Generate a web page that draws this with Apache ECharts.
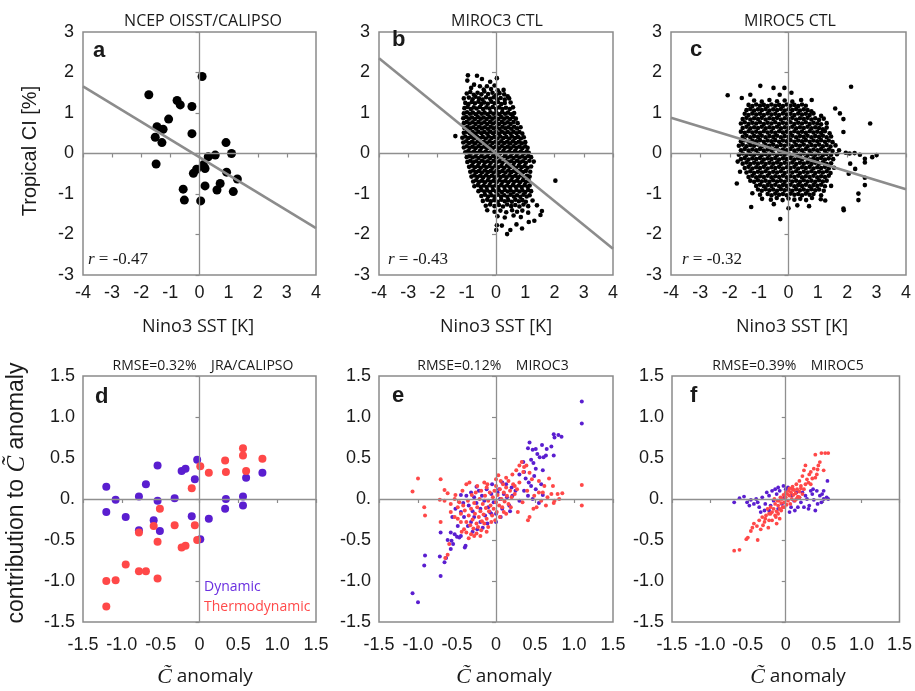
<!DOCTYPE html>
<html>
<head>
<meta charset="utf-8">
<script src="https://cdn.jsdelivr.net/npm/echarts@6/dist/echarts.min.js"></script>
<style>
html,body{margin:0;padding:0;background:#fff;}
#chart{width:915px;height:691px;}
</style>
</head>
<body>
<div id="chart"></div>
<script>
// ---------- tick labels ----------
const sstTicks = [-4, -3, -2, -1, 0, 1, 2, 3, 4];
const cloudTicks = [-3, -2, -1, 0, 1, 2, 3];
const anomXLabels = ['-1.5', '-1.0', '-0.5', '0', '0.5', '1.0', '1.5'];
const anomYLabels = ['-1.5', '-1.0', '-0.5', '0.', '0.5', '1.0', '1.5'];

// ---------- panel titles / annotations ----------
const topTitles = ['NCEP OISST/CALIPSO', 'MIROC3 CTL', 'MIROC5 CTL'];
const bottomTitles = ['RMSE=0.32%    JRA/CALIPSO', 'RMSE=0.12%    MIROC3', 'RMSE=0.39%    MIROC5'];
const corrLabels = ['-0.47', '-0.43', '-0.32'];

// ---------- regression lines (Nino3 SST vs tropical CI) ----------
const fitA = [[-4, 1.66], [4, -1.84]];
const fitB = [[-4, 2.35], [4, -2.35]];
const fitC = [[-4, 0.88], [4, -0.88]];

// ---------- a: observed annual anomalies ----------
const obsPts = [[-1.74,1.45],[0.09,1.90],[-0.77,1.31],[-0.66,1.20],[-0.26,1.16],[-1.06,0.85],[-1.46,0.66],[-1.25,0.60],[-1.52,0.40],[-1.29,0.27],[-0.26,0.49],[-1.49,-0.26],[0.91,0.27],[1.10,0.00],[0.54,-0.04],[0.30,-0.08],[0.13,-0.28],[0.19,-0.37],[-0.10,-0.39],[-0.21,-0.49],[0.93,-0.46],[1.30,-0.63],[0.71,-0.74],[0.60,-0.90],[0.19,-0.80],[1.16,-0.94],[-0.56,-0.88],[-0.52,-1.15],[0.04,-1.17]];

// ---------- b: MIROC3 control run ----------
const miroc3Pts = [
[-0.96,1.93],[-0.65,1.92],[0.03,1.86],[-0.98,1.80],[-0.48,1.84],[-0.2,1.77],
[-0.85,1.62],[-0.75,1.70],[-0.55,1.66],[-0.31,1.66],[-0.17,1.59],[0.06,1.56],[0.26,1.57],[-0.42,1.58],[-0.05,1.68],
[-1.0,1.48],[-0.88,1.52],[-0.76,1.45],[-0.63,1.5],[-0.5,1.46],[-0.4,1.53],[-0.27,1.47],[-0.12,1.5],[0.0,1.44],[0.12,1.49],[0.28,1.46],[0.4,1.41],
[-1.1,1.36],[-0.93,1.38],[-0.8,1.34],[-0.7,1.4],[-0.58,1.36],[-0.46,1.33],[-0.34,1.39],[-0.2,1.35],[-0.08,1.39],[0.04,1.34],[0.16,1.37],[0.3,1.33],[0.45,1.36],
[-1.05,1.25],[-0.94,1.22],[-0.83,1.27],[-0.72,1.24],[-0.6,1.28],[-0.5,1.22],[-0.4,1.26],[-0.28,1.23],[-0.16,1.28],[-0.05,1.24],[0.07,1.27],[0.18,1.22],[0.3,1.25],[0.5,1.26],
[-1.08,1.12],[-0.97,1.15],[-0.86,1.1],[-0.76,1.14],[-0.66,1.11],[-0.55,1.15],[-0.44,1.1],[-0.33,1.14],[-0.22,1.11],[-0.11,1.15],[0.0,1.1],[0.11,1.14],[0.22,1.1],[0.34,1.13],[0.47,1.1],[0.58,1.14],
[-1.1,0.99],[-0.99,1.02],[-0.89,0.98],[-0.79,1.01],[-0.69,0.97],[-0.59,1.02],[-0.49,0.98],[-0.39,1.01],[-0.29,0.97],[-0.19,1.02],[-0.09,0.98],[0.01,1.01],[0.11,0.97],[0.21,1.02],[0.31,0.98],[0.41,1.01],[0.52,0.97],[0.62,1.0],
[-1.12,0.87],[-1.02,0.9],[-0.92,0.86],[-0.82,0.89],[-0.72,0.85],[-0.62,0.9],[-0.52,0.86],[-0.42,0.89],[-0.32,0.85],[-0.22,0.9],[-0.12,0.86],[-0.02,0.89],[0.08,0.85],[0.18,0.9],[0.28,0.86],[0.38,0.89],[0.48,0.85],[0.58,0.9],[0.68,0.86],
[-1.1,0.75],[-1.0,0.78],[-0.9,0.74],[-0.8,0.77],[-0.7,0.73],[-0.6,0.78],[-0.5,0.74],[-0.4,0.77],[-0.3,0.73],[-0.2,0.78],[-0.1,0.74],[0.0,0.77],[0.1,0.73],[0.2,0.78],[0.3,0.74],[0.4,0.77],[0.5,0.73],[0.6,0.78],[0.74,0.75],
[-1.08,0.63],[-0.98,0.66],[-0.88,0.62],[-0.78,0.65],[-0.68,0.61],[-0.58,0.66],[-0.48,0.62],[-0.38,0.65],[-0.28,0.61],[-0.18,0.66],[-0.08,0.62],[0.02,0.65],[0.12,0.61],[0.22,0.66],[0.32,0.62],[0.42,0.65],[0.52,0.61],[0.62,0.66],[0.72,0.62],[0.84,0.65],
[-1.1,0.51],[-1.0,0.54],[-0.9,0.5],[-0.8,0.53],[-0.7,0.49],[-0.6,0.54],[-0.5,0.5],[-0.4,0.53],[-0.3,0.49],[-0.2,0.54],[-0.1,0.5],[0.0,0.53],[0.1,0.49],[0.2,0.54],[0.3,0.5],[0.4,0.53],[0.5,0.49],[0.6,0.54],[0.7,0.5],[0.8,0.53],[0.9,0.49],
[-1.39,0.43],[-1.15,0.39],[-1.05,0.42],[-0.95,0.38],[-0.85,0.41],[-0.75,0.37],[-0.65,0.42],[-0.55,0.38],[-0.45,0.41],[-0.35,0.37],[-0.25,0.42],[-0.15,0.38],[-0.05,0.41],[0.05,0.37],[0.15,0.42],[0.25,0.38],[0.35,0.41],[0.45,0.37],[0.55,0.42],[0.65,0.38],[0.75,0.41],[0.85,0.37],[0.95,0.4],
[-1.12,0.27],[-1.02,0.3],[-0.92,0.26],[-0.82,0.29],[-0.72,0.25],[-0.62,0.3],[-0.52,0.26],[-0.42,0.29],[-0.32,0.25],[-0.22,0.3],[-0.12,0.26],[-0.02,0.29],[0.08,0.25],[0.18,0.3],[0.28,0.26],[0.38,0.29],[0.48,0.25],[0.58,0.3],[0.68,0.26],[0.78,0.29],[0.88,0.25],[1.0,0.28],
[-1.1,0.15],[-1.0,0.18],[-0.9,0.14],[-0.8,0.17],[-0.7,0.13],[-0.6,0.18],[-0.5,0.14],[-0.4,0.17],[-0.3,0.13],[-0.2,0.18],[-0.1,0.14],[0.0,0.17],[0.1,0.13],[0.2,0.18],[0.3,0.14],[0.4,0.17],[0.5,0.13],[0.6,0.18],[0.7,0.14],[0.8,0.17],[0.9,0.13],[1.0,0.18],[1.08,0.14],
[-1.05,0.03],[-0.95,0.06],[-0.85,0.02],[-0.75,0.05],[-0.65,0.01],[-0.55,0.06],[-0.45,0.02],[-0.35,0.05],[-0.25,0.01],[-0.15,0.06],[-0.05,0.02],[0.05,0.05],[0.15,0.01],[0.25,0.06],[0.35,0.02],[0.45,0.05],[0.55,0.01],[0.65,0.06],[0.75,0.02],[0.85,0.05],[0.95,0.01],[1.05,0.05],[1.12,0.02],
[-1.0,-0.09],[-0.9,-0.06],[-0.8,-0.1],[-0.7,-0.07],[-0.6,-0.11],[-0.5,-0.06],[-0.4,-0.1],[-0.3,-0.07],[-0.2,-0.11],[-0.1,-0.06],[0.0,-0.1],[0.1,-0.07],[0.2,-0.11],[0.3,-0.06],[0.4,-0.1],[0.5,-0.07],[0.6,-0.11],[0.7,-0.06],[0.8,-0.1],[0.9,-0.07],[1.0,-0.11],[1.1,-0.06],[1.2,-0.09],
[-0.98,-0.21],[-0.88,-0.18],[-0.78,-0.22],[-0.68,-0.19],[-0.58,-0.23],[-0.48,-0.18],[-0.38,-0.22],[-0.28,-0.19],[-0.18,-0.23],[-0.08,-0.18],[0.02,-0.22],[0.12,-0.19],[0.22,-0.23],[0.32,-0.18],[0.42,-0.22],[0.52,-0.19],[0.62,-0.23],[0.72,-0.18],[0.82,-0.22],[0.92,-0.19],[1.02,-0.23],[1.14,-0.18],[1.29,-0.2],
[-0.92,-0.33],[-0.82,-0.3],[-0.72,-0.34],[-0.62,-0.31],[-0.52,-0.35],[-0.42,-0.3],[-0.32,-0.34],[-0.22,-0.31],[-0.12,-0.35],[-0.02,-0.3],[0.08,-0.34],[0.18,-0.31],[0.28,-0.35],[0.38,-0.3],[0.48,-0.34],[0.58,-0.31],[0.68,-0.35],[0.78,-0.3],[0.88,-0.34],[0.98,-0.31],[1.08,-0.35],[1.2,-0.32],
[-0.88,-0.45],[-0.78,-0.42],[-0.68,-0.46],[-0.58,-0.43],[-0.48,-0.47],[-0.38,-0.42],[-0.28,-0.46],[-0.18,-0.43],[-0.08,-0.47],[0.02,-0.42],[0.12,-0.46],[0.22,-0.43],[0.32,-0.47],[0.42,-0.42],[0.52,-0.46],[0.62,-0.43],[0.72,-0.47],[0.82,-0.42],[0.92,-0.46],[1.02,-0.43],[1.17,-0.45],
[-0.84,-0.57],[-0.74,-0.54],[-0.64,-0.58],[-0.54,-0.55],[-0.44,-0.59],[-0.34,-0.54],[-0.24,-0.58],[-0.14,-0.55],[-0.04,-0.59],[0.06,-0.54],[0.16,-0.58],[0.26,-0.55],[0.36,-0.59],[0.46,-0.54],[0.56,-0.58],[0.66,-0.55],[0.76,-0.59],[0.86,-0.54],[0.96,-0.58],[1.06,-0.55],[1.15,-0.57],
[-0.78,-0.69],[-0.68,-0.66],[-0.58,-0.7],[-0.48,-0.67],[-0.38,-0.71],[-0.28,-0.66],[-0.18,-0.7],[-0.08,-0.67],[0.02,-0.71],[0.12,-0.66],[0.22,-0.7],[0.32,-0.67],[0.42,-0.71],[0.52,-0.66],[0.62,-0.7],[0.72,-0.67],[0.82,-0.71],[0.92,-0.66],[1.02,-0.7],[1.12,-0.67],
[-0.74,-0.81],[-0.62,-0.78],[-0.52,-0.82],[-0.42,-0.79],[-0.32,-0.83],[-0.22,-0.78],[-0.12,-0.82],[-0.02,-0.79],[0.08,-0.83],[0.18,-0.78],[0.28,-0.82],[0.38,-0.79],[0.48,-0.83],[0.58,-0.78],[0.68,-0.82],[0.78,-0.79],[0.88,-0.83],[0.98,-0.78],[1.08,-0.82],[1.15,-0.79],
[-0.6,-0.93],[-0.5,-0.9],[-0.4,-0.94],[-0.3,-0.91],[-0.2,-0.95],[-0.1,-0.9],[0.0,-0.94],[0.1,-0.91],[0.2,-0.95],[0.3,-0.9],[0.4,-0.94],[0.5,-0.91],[0.6,-0.95],[0.7,-0.9],[0.8,-0.94],[0.9,-0.91],[1.0,-0.95],[1.1,-0.9],[1.2,-0.93],
[-0.5,-1.05],[-0.38,-1.02],[-0.27,-1.06],[-0.16,-1.03],[-0.05,-1.07],[0.06,-1.02],[0.17,-1.06],[0.28,-1.03],[0.39,-1.07],[0.5,-1.02],[0.61,-1.06],[0.72,-1.03],[0.83,-1.07],[0.94,-1.02],[1.05,-1.06],[1.15,-1.03],
[-0.45,-1.17],[-0.3,-1.14],[-0.18,-1.18],[-0.06,-1.15],[0.06,-1.19],[0.18,-1.14],[0.3,-1.18],[0.42,-1.15],[0.54,-1.19],[0.66,-1.14],[0.78,-1.18],[0.9,-1.15],[1.02,-1.19],[1.25,-1.16],
[-0.35,-1.29],[-0.2,-1.26],[-0.05,-1.3],[0.1,-1.27],[0.24,-1.31],[0.38,-1.26],[0.52,-1.3],[0.66,-1.27],[0.8,-1.31],[0.94,-1.26],[1.1,-1.3],[1.4,-1.28],
[-0.3,-1.4],[-0.05,-1.44],[0.15,-1.41],[0.35,-1.45],[0.55,-1.4],[0.72,-1.44],[0.9,-1.41],[1.1,-1.46],[1.57,-1.42],
[0.05,-1.55],[0.3,-1.58],[0.6,-1.53],[0.85,-1.57],[1.52,-1.52],[1.31,-1.66],[1.12,-1.69],
[0.03,-1.77],[0.2,-1.78],[0.49,-1.89],[0.38,-1.99],[0.89,-1.85],[0.01,-1.89],[0.7,-1.75],
[2.03,-0.67]
];

// ---------- c: MIROC5 control run ----------
const miroc5Pts = [
[-1.17,1.31],[-0.91,1.28],[-0.65,1.32],[-0.39,1.29],[-0.13,1.31],[0.13,1.28],[0.43,1.32],[0.79,1.32],[-1.59,1.37],[-0.96,1.67],[-0.51,1.62],[-0.14,1.62],[-2.07,1.44],[2.13,1.65],[-1.3,1.45],[-0.3,1.45],[0.1,1.5],
[-1.36,1.2],[-1.23,1.17],[-1.1,1.21],[-0.97,1.18],[-0.84,1.2],[-0.71,1.17],[-0.58,1.21],[-0.45,1.18],[-0.32,1.2],[-0.19,1.17],[-0.06,1.21],[0.07,1.18],[0.2,1.2],[0.33,1.17],[0.46,1.21],[0.59,1.18],[1.59,1.11],
[-1.43,1.07],[-1.3,1.1],[-1.17,1.06],[-1.04,1.09],[-0.91,1.07],[-0.78,1.1],[-0.65,1.06],[-0.52,1.09],[-0.39,1.07],[-0.26,1.1],[-0.13,1.06],[0.0,1.09],[0.13,1.07],[0.26,1.1],[0.39,1.06],[0.52,1.09],[0.65,1.07],[0.78,1.04],[1.75,0.99],
[-1.49,0.98],[-1.36,0.95],[-1.23,0.99],[-1.1,0.96],[-0.97,0.98],[-0.84,0.95],[-0.71,0.99],[-0.58,0.96],[-0.45,0.98],[-0.32,0.95],[-0.19,0.99],[-0.06,0.96],[0.07,0.98],[0.2,0.95],[0.33,0.99],[0.46,0.96],[0.59,0.98],[0.72,0.95],[0.85,0.99],[1.11,0.93],[1.87,0.85],
[-1.56,0.85],[-1.43,0.88],[-1.3,0.84],[-1.17,0.87],[-1.04,0.85],[-0.91,0.88],[-0.78,0.84],[-0.65,0.87],[-0.52,0.85],[-0.39,0.88],[-0.26,0.84],[-0.13,0.87],[0.0,0.85],[0.13,0.88],[0.26,0.84],[0.39,0.87],[0.52,0.85],[0.65,0.88],[0.78,0.84],[0.91,0.87],[1.04,0.83],[1.2,0.86],
[-1.62,0.74],[-1.49,0.77],[-1.36,0.73],[-1.23,0.76],[-1.1,0.74],[-0.97,0.77],[-0.84,0.73],[-0.71,0.76],[-0.58,0.74],[-0.45,0.77],[-0.32,0.73],[-0.19,0.76],[-0.06,0.74],[0.07,0.77],[0.2,0.73],[0.33,0.76],[0.46,0.74],[0.59,0.77],[0.72,0.73],[0.85,0.76],[0.98,0.74],[1.11,0.72],[1.3,0.75],[2.78,0.74],
[-1.56,0.63],[-1.43,0.66],[-1.3,0.62],[-1.17,0.65],[-1.04,0.63],[-0.91,0.66],[-0.78,0.62],[-0.65,0.65],[-0.52,0.63],[-0.39,0.66],[-0.26,0.62],[-0.13,0.65],[0.0,0.63],[0.13,0.66],[0.26,0.62],[0.39,0.65],[0.52,0.63],[0.65,0.66],[0.78,0.62],[0.91,0.65],[1.04,0.63],[1.17,0.6],[1.3,0.64],
[-1.62,0.54],[-1.49,0.51],[-1.36,0.55],[-1.23,0.52],[-1.1,0.54],[-0.97,0.51],[-0.84,0.55],[-0.71,0.52],[-0.58,0.54],[-0.45,0.51],[-0.32,0.55],[-0.19,0.52],[-0.06,0.54],[0.07,0.51],[0.2,0.55],[0.33,0.52],[0.46,0.54],[0.59,0.51],[0.72,0.55],[0.85,0.52],[0.98,0.54],[1.11,0.51],[1.24,0.55],[1.4,0.5],[1.87,0.53],
[-1.56,0.41],[-1.43,0.44],[-1.3,0.4],[-1.17,0.43],[-1.04,0.41],[-0.91,0.44],[-0.78,0.4],[-0.65,0.43],[-0.52,0.41],[-0.39,0.44],[-0.26,0.4],[-0.13,0.43],[0.0,0.41],[0.13,0.44],[0.26,0.4],[0.39,0.43],[0.52,0.41],[0.65,0.44],[0.78,0.4],[0.91,0.43],[1.04,0.41],[1.17,0.44],[1.3,0.4],[1.45,0.42],
[-1.62,0.3],[-1.49,0.33],[-1.36,0.29],[-1.23,0.32],[-1.1,0.3],[-0.97,0.33],[-0.84,0.29],[-0.71,0.32],[-0.58,0.3],[-0.45,0.33],[-0.32,0.29],[-0.19,0.32],[-0.06,0.3],[0.07,0.33],[0.2,0.29],[0.33,0.32],[0.46,0.3],[0.59,0.33],[0.72,0.29],[0.85,0.32],[0.98,0.3],[1.11,0.33],[1.24,0.29],[1.37,0.32],[1.5,0.28],
[-1.69,0.19],[-1.56,0.22],[-1.43,0.18],[-1.3,0.21],[-1.17,0.19],[-1.04,0.22],[-0.91,0.18],[-0.78,0.21],[-0.65,0.19],[-0.52,0.22],[-0.39,0.18],[-0.26,0.21],[-0.13,0.19],[0.0,0.22],[0.13,0.18],[0.26,0.21],[0.39,0.19],[0.52,0.22],[0.65,0.18],[0.78,0.21],[0.91,0.19],[1.04,0.22],[1.17,0.18],[1.3,0.21],[1.43,0.17],[1.6,0.2],
[-1.62,0.08],[-1.49,0.11],[-1.36,0.07],[-1.23,0.1],[-1.1,0.08],[-0.97,0.11],[-0.84,0.07],[-0.71,0.1],[-0.58,0.08],[-0.45,0.11],[-0.32,0.07],[-0.19,0.1],[-0.06,0.08],[0.07,0.11],[0.2,0.07],[0.33,0.1],[0.46,0.08],[0.59,0.11],[0.72,0.07],[0.85,0.1],[0.98,0.08],[1.11,0.11],[1.24,0.07],[1.37,0.1],[1.5,0.06],[1.72,0.08],[1.95,0.02],
[-1.69,-0.03],[-1.56,0.0],[-1.43,-0.04],[-1.3,-0.01],[-1.17,-0.03],[-1.04,0.0],[-0.91,-0.04],[-0.78,-0.01],[-0.65,-0.03],[-0.52,0.0],[-0.39,-0.04],[-0.26,-0.01],[-0.13,-0.03],[0.0,0.0],[0.13,-0.04],[0.26,-0.01],[0.39,-0.03],[0.52,0.0],[0.65,-0.04],[0.78,-0.01],[0.91,-0.03],[1.04,0.0],[1.17,-0.04],[1.3,-0.01],[1.45,-0.03],[1.65,-0.02],[2.08,0.0],[2.25,0.01],[2.43,-0.03],[3.0,-0.04],
[-1.62,-0.14],[-1.49,-0.11],[-1.36,-0.15],[-1.23,-0.12],[-1.1,-0.14],[-0.97,-0.11],[-0.84,-0.15],[-0.71,-0.12],[-0.58,-0.14],[-0.45,-0.11],[-0.32,-0.15],[-0.19,-0.12],[-0.06,-0.14],[0.07,-0.11],[0.2,-0.15],[0.33,-0.12],[0.46,-0.14],[0.59,-0.11],[0.72,-0.15],[0.85,-0.12],[0.98,-0.14],[1.11,-0.11],[1.24,-0.15],[1.37,-0.12],[1.52,-0.14],[2.6,-0.13],[2.85,-0.09],
[-1.73,-0.2],[-1.56,-0.25],[-1.43,-0.22],[-1.3,-0.26],[-1.17,-0.23],[-1.04,-0.25],[-0.91,-0.22],[-0.78,-0.26],[-0.65,-0.23],[-0.52,-0.25],[-0.39,-0.22],[-0.26,-0.26],[-0.13,-0.23],[0.0,-0.25],[0.13,-0.22],[0.26,-0.26],[0.39,-0.23],[0.52,-0.25],[0.65,-0.22],[0.78,-0.26],[0.91,-0.23],[1.04,-0.25],[1.17,-0.22],[1.3,-0.26],[1.45,-0.24],[2.1,-0.25],[2.6,-0.22],
[-1.49,-0.36],[-1.36,-0.33],[-1.23,-0.37],[-1.1,-0.34],[-0.97,-0.36],[-0.84,-0.33],[-0.71,-0.37],[-0.58,-0.34],[-0.45,-0.36],[-0.32,-0.33],[-0.19,-0.37],[-0.06,-0.34],[0.07,-0.36],[0.2,-0.33],[0.33,-0.37],[0.46,-0.34],[0.59,-0.36],[0.72,-0.33],[0.85,-0.37],[0.98,-0.34],[1.11,-0.36],[1.24,-0.33],[1.37,-0.37],[1.55,-0.35],[2.27,-0.38],
[-1.65,-0.45],[-1.43,-0.47],[-1.3,-0.44],[-1.17,-0.48],[-1.04,-0.45],[-0.91,-0.47],[-0.78,-0.44],[-0.65,-0.48],[-0.52,-0.45],[-0.39,-0.47],[-0.26,-0.44],[-0.13,-0.48],[0.0,-0.45],[0.13,-0.47],[0.26,-0.44],[0.39,-0.48],[0.52,-0.45],[0.65,-0.47],[0.78,-0.44],[0.91,-0.48],[1.04,-0.45],[1.17,-0.47],[1.3,-0.44],[1.43,-0.48],[2.05,-0.5],
[-1.36,-0.58],[-1.23,-0.55],[-1.1,-0.59],[-0.97,-0.56],[-0.84,-0.58],[-0.71,-0.55],[-0.58,-0.59],[-0.45,-0.56],[-0.32,-0.58],[-0.19,-0.55],[-0.06,-0.59],[0.07,-0.56],[0.2,-0.58],[0.33,-0.55],[0.46,-0.59],[0.59,-0.56],[0.72,-0.58],[0.85,-0.55],[0.98,-0.59],[1.11,-0.56],[1.24,-0.58],[1.37,-0.55],[2.6,-0.6],
[-1.76,-0.74],[-1.3,-0.67],[-1.17,-0.7],[-1.04,-0.66],[-0.91,-0.69],[-0.78,-0.67],[-0.65,-0.7],[-0.52,-0.66],[-0.39,-0.69],[-0.26,-0.67],[-0.13,-0.7],[0.0,-0.66],[0.13,-0.69],[0.26,-0.67],[0.39,-0.7],[0.52,-0.66],[0.65,-0.69],[0.78,-0.67],[0.91,-0.7],[1.04,-0.66],[1.17,-0.69],[1.3,-0.67],[2.6,-0.78],
[-1.1,-0.8],[-0.97,-0.77],[-0.84,-0.81],[-0.71,-0.78],[-0.58,-0.8],[-0.45,-0.77],[-0.32,-0.81],[-0.19,-0.78],[-0.06,-0.8],[0.07,-0.77],[0.2,-0.81],[0.33,-0.78],[0.46,-0.8],[0.59,-0.77],[0.72,-0.81],[0.85,-0.78],[0.98,-0.8],[1.11,-0.77],[1.24,-0.81],[1.45,-0.8],
[-1.04,-0.89],[-0.91,-0.92],[-0.78,-0.88],[-0.65,-0.91],[-0.52,-0.89],[-0.39,-0.92],[-0.26,-0.88],[-0.13,-0.91],[0.0,-0.89],[0.13,-0.92],[0.26,-0.88],[0.39,-0.91],[0.52,-0.89],[0.65,-0.92],[0.78,-0.88],[0.91,-0.91],[1.04,-0.89],[1.2,-0.92],
[-1.23,-0.98],[-0.97,-1.02],[-0.71,-1.0],[-0.58,-1.03],[-0.45,-0.99],[-0.32,-1.02],[-0.19,-1.0],[-0.06,-1.03],[0.07,-0.99],[0.2,-1.02],[0.33,-1.0],[0.46,-1.03],[0.59,-0.99],[0.72,-1.02],[0.85,-1.0],[1.11,-1.03],[2.38,-0.99],
[-0.9,-1.12],[-0.6,-1.14],[-0.4,-1.1],[-0.2,-1.15],[0.0,-1.11],[0.2,-1.14],[0.4,-1.12],[0.6,-1.15],[0.8,-1.1],[1.1,-1.13],[1.25,-1.16],[2.38,-1.15],
[-1.27,-1.32],[-0.5,-1.25],[0.0,-1.35],[0.3,-1.28],[0.7,-1.3],[1.87,-1.36],[1.88,-1.4],[-0.28,-1.62]
];

// ---------- d: reanalysis decomposition ----------
const obsDynamic = [[-1.20,0.15],[-1.20,-0.16],[-1.08,-0.01],[-0.95,-0.22],[-0.78,0.03],[-0.78,-0.38],[-0.69,0.18],[-0.54,0.41],[-0.54,-0.02],[-0.59,-0.26],[-0.51,-0.39],[-0.32,0.01],[-0.23,0.34],[-0.18,0.37],[-0.06,0.24],[-0.03,0.48],[-0.10,-0.21],[0.01,-0.49],[0.12,-0.24],[0.33,-0.12],[0.34,0.00],[0.56,0.03],[0.56,-0.08],[0.60,0.26],[0.81,0.32]];
const obsThermo = [[-1.20,-1.31],[-1.20,-1.00],[-1.08,-0.99],[-0.95,-0.80],[-0.78,-0.88],[-0.69,-0.88],[-0.54,-0.97],[-0.78,-0.41],[-0.59,-0.33],[-0.54,-0.52],[-0.51,-0.12],[-0.32,-0.32],[-0.23,-0.59],[-0.18,-0.57],[-0.10,0.13],[-0.06,-0.32],[-0.03,-0.50],[0.01,0.40],[0.12,0.32],[0.33,0.47],[0.34,0.33],[0.56,0.62],[0.56,0.53],[0.60,0.34],[0.81,0.49]];

// ---------- e: MIROC3 decomposition ----------
const m3Dynamic = [
[1.10,1.19],[1.10,0.92],[-1.07,-1.15],[-1.00,-1.26],[-0.91,-0.69],[-0.92,-0.81],[-0.71,-0.94],[-0.72,-0.70],[-0.66,-0.77],[-0.64,-0.72],[-0.71,-0.41],[-0.58,-0.61],[-0.57,-0.51],[-0.58,-0.41],[-0.53,-0.43],[-0.50,-0.46],[-0.47,-0.47],[-0.45,-0.45],[-0.40,-0.59],[-0.39,-0.57],[-0.62,-0.50],[-0.55,-0.55],
[0.74,0.79],[0.75,0.75],[0.80,0.78],[0.84,0.76],[0.43,0.69],[0.41,0.62],[0.47,0.60],[0.51,0.61],[0.53,0.55],[0.59,0.66],[0.65,0.61],[0.71,0.64],[0.64,0.53],[0.61,0.51],[0.56,0.51],[0.74,0.53],[0.45,0.48],[0.51,0.37],[0.60,0.35],[0.49,0.28],[0.36,0.33],[0.42,0.20],[0.30,0.30],[0.38,0.25],[0.45,0.16],[0.51,0.12],[0.58,0.18],[0.36,0.10],[0.41,0.04],[0.47,0.00],[0.21,0.04],[0.30,-0.02],[0.17,-0.08],[0.13,0.18],[0.04,0.12],[0.0,-0.28],[0.60,0.05],[0.55,-0.05],[0.35,0.45],[0.48,0.44],
[-0.38,0.04],[-0.32,0.08],[-0.28,0.02],[-0.25,-0.05],[-0.22,0.10],[-0.18,0.04],[-0.15,-0.02],[-0.12,0.12],[-0.10,-0.10],[-0.06,0.06],[-0.03,-0.04],[0.02,0.08],[0.05,0.0],[0.08,-0.12],[0.10,0.06],[0.14,0.02],[-0.35,-0.08],[-0.30,-0.15],[-0.20,-0.12],[-0.14,-0.20],[-0.08,-0.16],[0.0,-0.18],[0.06,-0.22],[-0.42,-0.05],[-0.25,0.15],[-0.05,0.18],[0.08,0.20],[-0.45,-0.16],[-0.41,-0.22],[-0.36,-0.33],[-0.32,-0.28],[-0.24,-0.37],[-0.17,-0.35],[-0.11,-0.30],[-0.06,-0.18],[-0.49,-0.33],[-0.56,-0.22],[-0.30,-0.40],[-0.20,-0.28],[-0.52,-0.12],[0.18,-0.15],[0.25,0.10],[0.20,0.14],[-0.45,0.05],[-0.28,-0.22]
];
const m3Thermo = [
[1.10,0.17],[1.10,-0.08],[-1.00,0.25],[-1.07,0.09],[-0.92,-0.10],[-0.91,-0.20],[-0.71,0.24],[-0.72,-0.01],[-0.71,-0.28],[-0.66,0.11],[-0.62,0.07],[-0.62,-0.68],[-0.60,-0.55],[-0.65,-0.72],
[-0.38,0.18],[-0.34,0.20],[-0.24,0.16],[-0.15,0.20],[-0.11,0.18],[0.0,0.24],[0.03,0.29],[0.06,0.22],[0.13,0.26],[0.21,0.30],[0.26,0.35],[0.30,0.41],[0.33,0.45],[0.36,0.39],[0.39,0.41],[0.35,0.33],[0.43,0.32],[0.46,0.24],[0.30,0.20],[0.24,0.16],
[0.73,0.16],[0.62,0.16],[0.55,0.08],[0.49,0.04],[0.58,-0.02],[0.64,-0.08],[0.74,-0.05],[0.81,0.0],[0.85,0.07],[0.71,0.06],[0.48,-0.12],[0.43,-0.22],[0.41,-0.26],[0.52,-0.10],[0.34,-0.04],[0.28,-0.16],[0.13,-0.18],[0.75,-0.02],[0.60,0.08],[0.66,0.02],[0.79,0.06],[0.55,0.22],[0.68,0.25],[0.40,0.10],
[-0.58,-0.06],[-0.53,0.0],[-0.58,-0.16],[-0.49,-0.10],[-0.47,-0.04],[-0.53,-0.22],[-0.49,-0.24],[-0.45,-0.28],[-0.41,-0.37],[-0.38,-0.41],[-0.32,-0.43],[-0.28,-0.45],[-0.43,0.10],[-0.66,-0.02],[-0.44,-0.40],[-0.35,-0.48],[-0.52,0.05],
[-0.35,-0.20],[-0.32,-0.12],[-0.30,-0.25],[-0.28,-0.05],[-0.27,-0.18],[-0.25,-0.30],[-0.24,-0.10],[-0.22,-0.22],[-0.21,0.0],[-0.20,-0.15],[-0.18,-0.27],[-0.17,-0.06],[-0.16,-0.19],[-0.14,0.04],[-0.13,-0.11],[-0.12,-0.24],[-0.10,-0.02],[-0.09,-0.15],[-0.08,0.08],[-0.07,-0.08],[-0.05,-0.20],[-0.04,0.02],[-0.03,-0.12],[-0.02,0.10],[0.0,-0.04],[0.01,-0.16],[0.02,0.05],[0.04,-0.08],[0.05,0.12],[0.07,0.0],[0.08,-0.10],[0.10,0.08],[0.11,-0.03],[0.13,0.14],[0.14,0.04],[0.16,-0.06],[0.18,0.10],[0.20,0.02],[0.22,0.18],[0.24,0.06],[0.27,0.12],[-0.33,-0.32],[-0.29,-0.36],[-0.23,-0.34],[-0.19,-0.38],[-0.15,-0.30],[-0.10,-0.34],[-0.06,-0.28],[-0.38,-0.28],[-0.40,-0.14],[-0.36,-0.02],[-0.31,0.05],[-0.26,0.08],[-0.19,0.10],[-0.12,0.14],[0.0,0.16],[0.09,0.18],[0.16,0.22],[-0.01,-0.26],[0.05,-0.22],[0.1,-0.16],[0.19,-0.1],[-0.45,-0.18],[-0.42,-0.08],[-0.20,-0.45],[-0.12,-0.40],[-0.25,-0.42]
];

// ---------- f: MIROC5 decomposition ----------
const m5Dynamic = [
[-0.68,-0.04],[-0.61,0.01],[-0.51,-0.04],[-0.46,-0.01],[-0.42,-0.06],[-0.37,-0.04],[-0.35,-0.10],[-0.31,0.02],[-0.27,-0.06],[-0.22,0.04],[-0.18,0.10],[-0.14,0.12],[-0.12,0.06],[-0.10,0.14],[-0.03,0.16],[0.03,0.14],[-0.28,-0.14],[-0.33,-0.16],[-0.22,-0.14],[-0.39,0.0],[-0.48,-0.08],[-0.55,0.03],[-0.25,0.08],[-0.16,-0.02],[-0.08,0.10],[0.0,0.12],
[0.26,0.04],[0.35,0.06],[0.41,0.10],[0.45,0.04],[0.50,0.0],[0.54,0.02],[0.56,0.0],[0.47,-0.04],[0.39,-0.14],[0.31,-0.08],[0.24,-0.10],[0.20,-0.04],[0.55,0.22],[0.37,-0.01],[0.16,-0.10],[0.18,0.02],[0.11,-0.02],[0.28,0.0],[0.22,0.08],[0.50,0.10],[0.33,0.10],[0.07,-0.10],[0.05,-0.16],[0.42,-0.06],[0.30,-0.12],[0.14,0.08],[0.08,0.04],[-0.05,-0.06],[-0.02,0.02],[0.12,-0.14],[0.36,0.12],[0.48,0.06],[-0.2,-0.08],[-0.1,-0.12]
];
const m5Thermo = [
[-0.68,-0.63],[-0.61,-0.62],[-0.52,-0.49],[-0.50,-0.47],[-0.46,-0.39],[-0.44,-0.35],[-0.37,-0.50],[-0.42,-0.30],[-0.35,-0.26],[-0.33,-0.37],[-0.31,-0.22],[-0.28,-0.28],[-0.23,-0.35],[-0.22,-0.26],[-0.20,-0.18],[-0.14,-0.20],[-0.12,-0.30],[-0.38,-0.33],[-0.30,-0.32],[-0.26,-0.20],[-0.18,-0.26],
[0.39,0.54],[0.47,0.56],[0.52,0.56],[0.56,0.56],[0.45,0.45],[0.43,0.41],[0.37,0.37],[0.33,0.33],[0.31,0.30],[0.24,0.35],[0.22,0.28],[0.26,0.41],[0.41,0.30],[0.50,0.35],[0.39,0.26],[0.28,0.24],[0.18,0.22],[0.20,0.16],[0.14,0.18],[0.09,0.12],[0.33,0.18],[0.35,0.25],[0.30,0.20],[0.42,0.36],
[-0.16,-0.12],[-0.14,-0.06],[-0.12,-0.15],[-0.10,-0.08],[-0.09,-0.02],[-0.08,-0.12],[-0.06,-0.05],[-0.05,0.0],[-0.04,-0.10],[-0.02,-0.04],[0.0,0.02],[0.01,-0.07],[0.02,0.06],[0.03,-0.02],[0.05,0.04],[0.06,-0.06],[0.07,0.08],[0.08,0.0],[0.10,0.05],[0.11,0.11],[0.12,-0.02],[0.13,0.07],[0.15,0.12],[0.16,0.03],[0.18,0.09],[0.2,0.13],[0.22,0.06],[0.24,0.12],[0.26,0.18],[-0.18,-0.16],[-0.2,-0.1],[-0.22,-0.18],[-0.24,-0.12],[-0.1,-0.18],[-0.06,-0.14],[-0.02,-0.1],[0.04,0.1],[0.0,0.08],[-0.03,0.05],[-0.07,0.02],[-0.11,-0.02],[0.09,0.15],[0.05,0.13],[0.14,0.0],[0.18,0.02],[-0.15,0.0],[-0.13,-0.22],[-0.08,-0.24],[-0.27,-0.24]
];

// ---------- styling ----------
const FRAME = '#8a8a8a';
const FIT = '#8c8c8c';
const PURPLE = '#5a1ed0';
const RED = '#ff4848';
const SANS = '"Liberation Sans", Arial, sans-serif';
const TITLE_FONT = '"Open Sans", "Liberation Sans", sans-serif';

const grids = [
  { left: 83,  top: 32,  width: 233, height: 243 },
  { left: 379, top: 32,  width: 234, height: 243 },
  { left: 671, top: 32,  width: 235, height: 243 },
  { left: 83,  top: 376, width: 233, height: 246 },
  { left: 379, top: 376, width: 234, height: 246 },
  { left: 672, top: 376, width: 236, height: 246 }
].map(g => Object.assign({ show: true, borderColor: FRAME, borderWidth: 1.5, backgroundColor: 'transparent' }, g));

function axisCommon(i) {
  return {
    gridIndex: i,
    axisLine: { show: false },
    splitLine: { show: false },
    axisTick: { show: true, length: 4, inside: false, lineStyle: { color: FRAME, width: 1.2 } },
    axisLabel: { color: '#1a1a1a', fontFamily: SANS, fontSize: 18 }
  };
}

const xAxes = [], yAxes = [];
for (let i = 0; i < 6; i++) {
  const top = i < 3;
  const xa = axisCommon(i), ya = axisCommon(i);
  xa.type = 'value'; ya.type = 'value';
  if (top) {
    xa.min = sstTicks[0]; xa.max = sstTicks[sstTicks.length - 1]; xa.interval = 1;
    ya.min = cloudTicks[0]; ya.max = cloudTicks[cloudTicks.length - 1]; ya.interval = 1;
    xa.axisLabel.margin = 9; ya.axisLabel.margin = 9;
    xa.axisLabel.formatter = v => String(v);
    ya.axisLabel.formatter = v => String(v);
  } else {
    xa.min = -1.5; xa.max = 1.5; xa.interval = 0.5;
    ya.min = -1.5; ya.max = 1.5; ya.interval = 0.5;
    xa.axisLabel.margin = 14; ya.axisLabel.margin = 8;
    xa.axisLabel.formatter = v => anomXLabels[Math.round((v + 1.5) / 0.5)];
    ya.axisLabel.formatter = v => anomYLabels[Math.round((v + 1.5) / 0.5)];
  }
  xAxes.push(xa); yAxes.push(ya);
}

const series = [];
function zeroLines(i) {
  series.push({
    type: 'line', xAxisIndex: i, yAxisIndex: i, data: [], z: 1, silent: true,
    markLine: {
      silent: true, symbol: 'none', label: { show: false },
      lineStyle: { color: '#8f8f8f', width: 1.3, type: 'solid' },
      data: [{ xAxis: 0 }, { yAxis: 0 }]
    }
  });
}
function dots(i, data, color, size) {
  series.push({
    type: 'scatter', xAxisIndex: i, yAxisIndex: i, data: data, z: 2, silent: true,
    symbol: 'circle', symbolSize: size, itemStyle: { color: color, opacity: 1 }
  });
}
function fit(i, data) {
  series.push({
    type: 'line', xAxisIndex: i, yAxisIndex: i, data: data, z: 3, silent: true,
    symbol: 'none', clip: true, lineStyle: { color: FIT, width: 2.6 }
  });
}

for (let i = 0; i < 6; i++) zeroLines(i);
dots(0, obsPts, '#000', 9);       fit(0, fitA);
dots(1, miroc3Pts, '#000', 4.6);  fit(1, fitB);
dots(2, miroc5Pts, '#000', 4.6);  fit(2, fitC);
dots(3, obsDynamic, PURPLE, 8);   dots(3, obsThermo, RED, 8);
dots(4, m3Dynamic, PURPLE, 4);    dots(4, m3Thermo, RED, 4);
dots(5, m5Dynamic, PURPLE, 3.8);  dots(5, m5Thermo, RED, 3.8);

// ---------- text ----------
function txt(x, y, text, font, opts) {
  const o = opts || {};
  return {
    type: 'text', x: x, y: y, rotation: o.rotation || 0, silent: true, z: 10,
    style: {
      x: 0, y: 0, text: text, font: font, fill: o.fill || '#1a1a1a',
      textAlign: o.align || 'center', align: o.align || 'center',
      textVerticalAlign: 'middle', verticalAlign: 'middle',
      rich: o.rich
    }
  };
}
const graphics = [];
const topCx = [203, 497, 790], botCx = [203, 493, 788];
topTitles.forEach((t, i) => graphics.push(txt(topCx[i], 21, t, '16px ' + TITLE_FONT)));
bottomTitles.forEach((t, i) => graphics.push(txt(botCx[i], 366, t, '14px ' + TITLE_FONT)));
['a', 'b', 'c'].forEach((l, i) => graphics.push(txt([93, 392, 690][i], [51, 40, 50][i], l, 'bold 22px ' + SANS, { align: 'left' })));
['d', 'e', 'f'].forEach((l, i) => graphics.push(txt([95, 392, 690][i], [397, 396, 396][i], l, 'bold 22px ' + SANS, { align: 'left' })));
corrLabels.forEach((r, i) => graphics.push(txt([88, 388, 682][i], 260, '{i|r} = ' + r, '17px "Liberation Serif", serif', {
  align: 'left',
  rich: { i: { font: 'italic 17px "Liberation Serif", serif', fill: '#1a1a1a' } }
})));
[198, 496, 792].forEach(cx => graphics.push(txt(cx, 327, 'Nino3 SST [K]', '18px ' + TITLE_FONT)));
const anomRich = {
  c: { font: 'italic 22px "Liberation Serif", serif', fill: '#1a1a1a' },
  s: { font: '19px ' + TITLE_FONT, fill: '#1a1a1a' }
};
[205, 504, 798].forEach(cx => graphics.push(txt(cx, 677, '{c|C\u0303}{s| anomaly}', '19px ' + TITLE_FONT, { rich: anomRich })));
graphics.push(txt(30, 151, 'Tropical CI [%]', '20px ' + SANS, { rotation: Math.PI / 2 }));
graphics.push(txt(17, 493, '{s|contribution to }{c|C\u0303}{s| anomaly}', '23px ' + SANS, {
  rotation: Math.PI / 2,
  rich: {
    s: { font: '23px ' + SANS, fill: '#1a1a1a' },
    c: { font: 'italic 25px "Liberation Serif", serif', fill: '#1a1a1a' }
  }
}));
graphics.push(txt(204, 587, 'Dynamic', '14px ' + TITLE_FONT, { align: 'left', fill: '#6a2fe0' }));
graphics.push(txt(204, 607, 'Thermodynamic', '14px ' + TITLE_FONT, { align: 'left', fill: '#ff4a4a' }));

const chart = echarts.init(document.getElementById('chart'), null, { renderer: 'canvas' });
chart.setOption({
  animation: false,
  backgroundColor: '#fff',
  grid: grids,
  xAxis: xAxes,
  yAxis: yAxes,
  series: series,
  graphic: graphics
});
</script>
</body>
</html>
